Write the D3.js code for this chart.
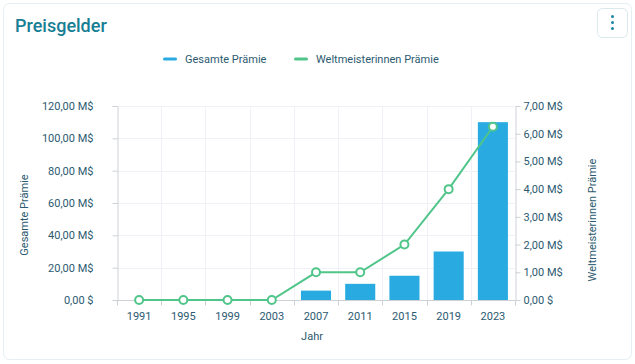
<!DOCTYPE html>
<html>
<head>
<meta charset="utf-8">
<script src="https://cdn.jsdelivr.net/npm/d3@7"></script>
<style>
	body { margin: 0; background: #fff; font-family: Roboto, "Noto Sans", sans-serif; }
	svg { display: block; }
</style>
</head>
<body>
<svg id="chart" width="635" height="364"></svg>
<script>
const years = ["1991", "1995", "1999", "2003", "2007", "2011", "2015", "2019", "2023"];
const totalPrize = [0, 0, 0, 0, 5.8, 10, 15, 30, 110];      // Mio $
const winnerPrize = [0, 0, 0, 0, 1, 1, 2, 4, 6.25];         // Mio $
const leftTicks = [0, 20, 40, 60, 80, 100, 120];
const rightTicks = [0, 1, 2, 3, 4, 5, 6, 7];

const blue = "#29abe2";
const green = "#50c58a";
const textCol = "#2c5a70";
const fs = 11;

const svg = d3.select("#chart");

// card + title
svg.append("rect")
	.attr("x", 3.5).attr("y", 3.5).attr("width", 628).attr("height", 356)
	.attr("rx", 6).attr("fill", "#fff").attr("stroke", "#e4eff3");

svg.append("text")
	.attr("x", 15).attr("y", 32)
	.attr("font-size", 18).attr("font-weight", 500)
	.attr("fill", "#177e94")
	.text("Preisgelder");

// menu button
svg.append("rect")
	.attr("x", 597.5).attr("y", 8.5).attr("width", 30).attr("height", 29)
	.attr("rx", 5).attr("fill", "#fff").attr("stroke", "#dbe8ee");
[17, 23, 29].forEach(y => {
	svg.append("circle").attr("cx", 612.5).attr("cy", y - 0.5).attr("r", 1.5).attr("fill", "#1b86a3");
});

// legend
const legend = svg.append("g").attr("font-size", fs).attr("fill", textCol);
legend.append("rect").attr("x", 163).attr("y", 57.5).attr("width", 14).attr("height", 3).attr("rx", 1.5).attr("fill", blue);
legend.append("text").attr("x", 185).attr("y", 63).text("Gesamte Prämie");
legend.append("rect").attr("x", 294).attr("y", 57.5).attr("width", 14).attr("height", 3).attr("rx", 1.5).attr("fill", green);
legend.append("text").attr("x", 316).attr("y", 63).text("Weltmeisterinnen Prämie");

// scales
const pLeft = 117, pRight = 515, pTop = 106, pBottom = 300;

const x = d3.scaleBand().domain(years).range([pLeft, pRight]).paddingInner(0.32).paddingOuter(0.16);
const xGrid = d3.scaleBand().domain(years).range([pLeft, pRight]);
const yL = d3.scaleLinear().domain([0, 120]).range([pBottom, pTop]);
const yR = d3.scaleLinear().domain([0, 7]).range([pBottom, pTop]);

const fmt = v => v === 0 ? "0,00 $" : d3.format(".2f")(v).replace(".", ",") + " M$";

// grid
const grid = svg.append("g").attr("stroke", "#f0f1f7").attr("stroke-width", 1);
leftTicks.slice(1).forEach(t => {
	grid.append("line").attr("x1", pLeft).attr("x2", pRight)
		.attr("y1", Math.round(yL(t)) + 0.5).attr("y2", Math.round(yL(t)) + 0.5);
});
years.forEach((yr, i) => {
	if (i === 0) return;
	const gx = Math.round(xGrid(yr)) + 0.5;
	grid.append("line").attr("x1", gx).attr("x2", gx).attr("y1", pTop).attr("y2", pBottom);
});

// bars
svg.append("g").selectAll("rect")
	.data(years)
	.join("rect")
	.attr("x", d => x(d))
	.attr("width", x.bandwidth())
	.attr("y", (d, i) => yL(totalPrize[i]))
	.attr("height", (d, i) => pBottom - yL(totalPrize[i]))
	.attr("fill", blue);

// axes
function styleAxis(g) {
	g.select(".domain").attr("stroke", "#cdd1d6");
	g.selectAll(".tick line").attr("stroke", "#cdd1d6");
	g.selectAll(".tick text").attr("fill", textCol).attr("font-size", fs).attr("font-family", "Roboto, sans-serif");
}

svg.append("g")
	.attr("transform", `translate(${pLeft + 0.5},0)`)
	.call(d3.axisLeft(yL).tickValues(leftTicks).tickFormat(fmt).tickSize(5).tickSizeOuter(0).tickPadding(19))
	.call(styleAxis);

svg.append("g")
	.attr("transform", `translate(${pRight + 0.5},0)`)
	.call(d3.axisRight(yR).tickValues(rightTicks).tickFormat(fmt).tickSize(5).tickSizeOuter(0).tickPadding(3))
	.call(styleAxis);

const xAxis = svg.append("g")
	.attr("transform", `translate(0,${pBottom + 0.5})`)
	.call(d3.axisBottom(xGrid).tickSize(0).tickPadding(12).tickSizeOuter(0))
	.call(styleAxis);
xAxis.select(".domain").attr("d", `M${pLeft},0H${pRight}`);
years.forEach((yr, i) => {
	const gx = Math.round(xGrid(yr)) + 0.5;
	xAxis.append("line").attr("x1", gx).attr("x2", gx).attr("y1", 0).attr("y2", 5).attr("stroke", "#cdd1d6");
});
xAxis.append("line").attr("x1", pRight + 0.5).attr("x2", pRight + 0.5).attr("y1", 0).attr("y2", 5).attr("stroke", "#cdd1d6");

// axis titles
svg.append("text")
	.attr("transform", "translate(28,215) rotate(-90)")
	.attr("text-anchor", "middle").attr("font-size", fs).attr("fill", textCol)
	.text("Gesamte Prämie");
svg.append("text")
	.attr("transform", "translate(596,220) rotate(-90)")
	.attr("text-anchor", "middle").attr("font-size", fs).attr("fill", textCol)
	.text("Weltmeisterinnen Prämie");
svg.append("text")
	.attr("x", 312).attr("y", 340)
	.attr("text-anchor", "middle").attr("font-size", fs).attr("fill", textCol)
	.text("Jahr");

// line
const cx = d => xGrid(d) + xGrid.bandwidth() / 2;
const line = d3.line().x(d => cx(d)).y((d, i) => yR(winnerPrize[i]));
svg.append("path")
	.datum(years)
	.attr("d", line)
	.attr("fill", "none").attr("stroke", green).attr("stroke-width", 2);

svg.append("g").selectAll("circle")
	.data(years)
	.join("circle")
	.attr("cx", d => cx(d))
	.attr("cy", (d, i) => yR(winnerPrize[i]))
	.attr("r", 4)
	.attr("fill", "#fff").attr("stroke", green).attr("stroke-width", 2);
</script>
</body>
</html>
